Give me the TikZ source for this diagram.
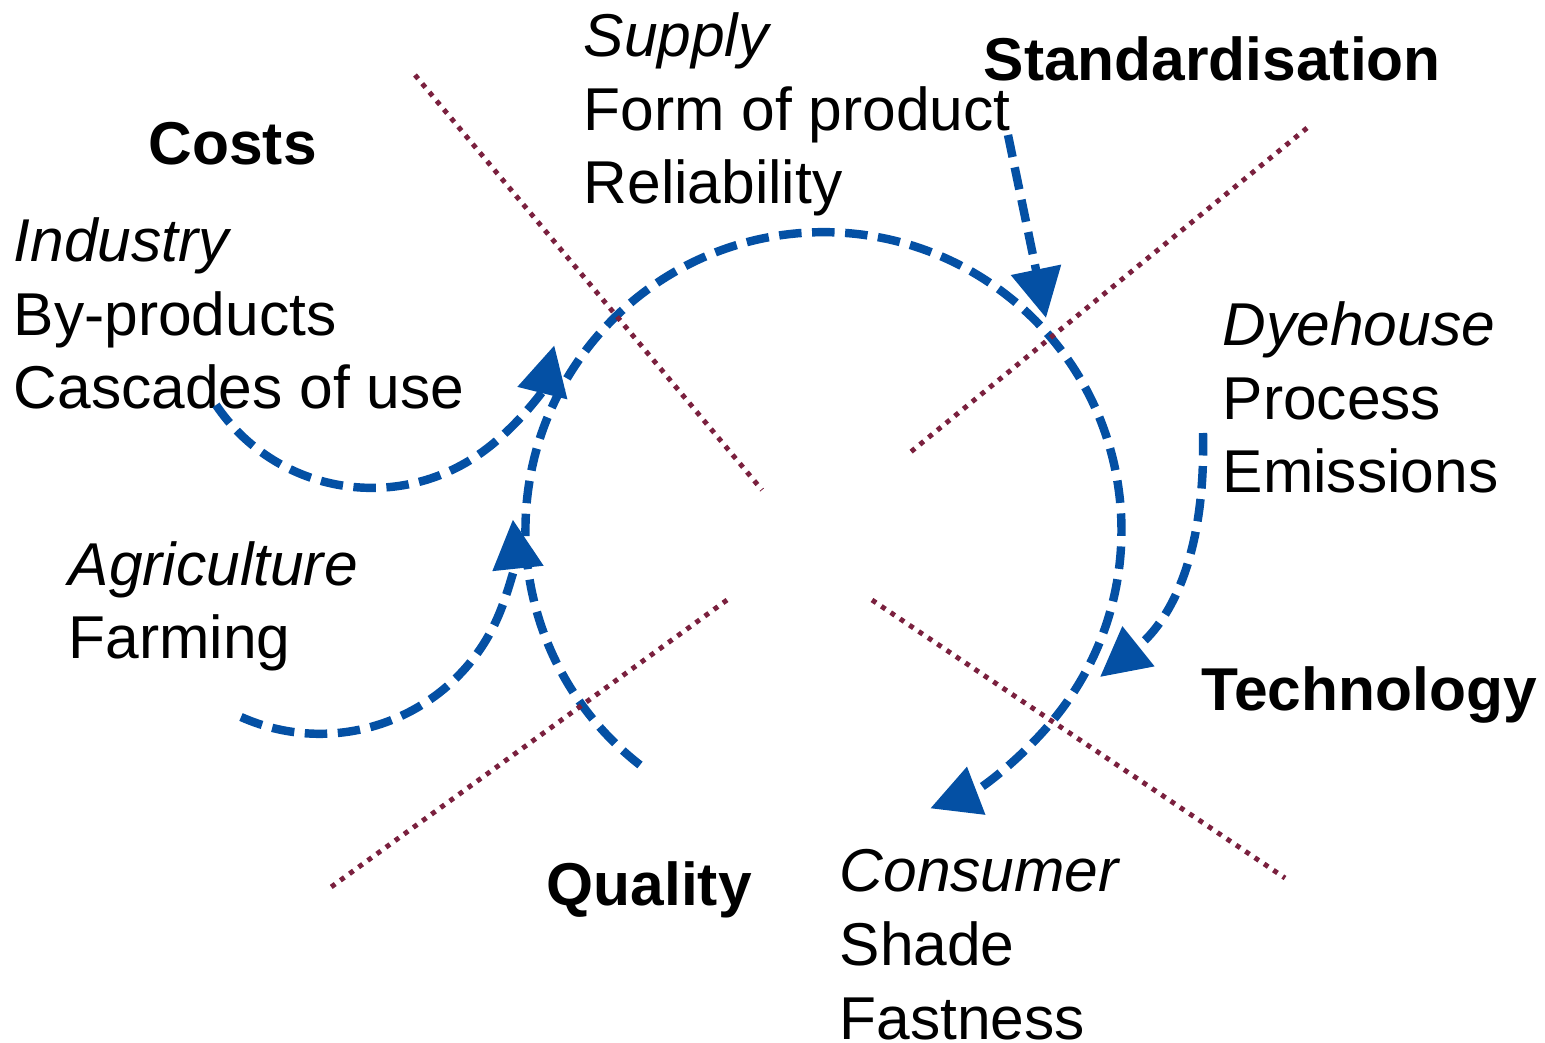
\documentclass[tikz,border=0pt]{standalone}
\usepackage{fontspec}
\setmainfont{Liberation Sans}
\usetikzlibrary{arrows.meta}
\definecolor{flowblue}{RGB}{4,80,164}
\definecolor{sectorred}{RGB}{122,32,62}

\begin{document}
\begin{tikzpicture}[x=0.01cm,y=-0.01cm,
    >={Triangle[length=14pt,width=14pt]},
    every node/.style={inner sep=0pt,anchor=base west,align=left,
        font=\fontsize{17.2}{21}\selectfont},
    head/.style={font=\fontsize{17.2}{21}\selectfont\bfseries},
    flow/.style={->,flowblue,line width=2.4pt,dash pattern=on 6.4pt off 3pt},
    border/.style={sectorred,line width=1.4pt,dash pattern=on 1.4pt off 1.8pt}]
    \useasboundingbox (0,0) rectangle (1545,1043);
    % headings
    \node[head] (costs) at (148,165) {Costs};
    \node[head] (standard) at (983,81) {Standardisation};
    \node[head] (tech) at (1201,710) {Technology};
    \node[head] (quality) at (546,905) {Quality};
    % actors (base = last line)
    \node (supply) at (583,204) {\textit{Supply}\\Form of product\\Reliability};
    \node (industry) at (13,409) {\textit{Industry}\\By-products\\Cascades of use};
    \node (dyehouse) at (1222,493) {\textit{Dyehouse}\\Process\\Emissions};
    \node (agri) at (68,659) {\textit{Agriculture}\\Farming};
    \node (consumer) at (839,1039) {\textit{Consumer}\\Shade\\Fastness};
    % flows
    \coordinate (cyclestart) at (640,765);
    \coordinate (indstart) at (216,405);
    \coordinate (agristart) at (241,717);
    \coordinate (stdstart) at (1008,135);
    \coordinate (stdend) at (1046,318);
    \coordinate (dyestart) at (1203,433);
    \coordinate (dyeend) at (1100,677);
    \draw[flow] (cyclestart) arc[start angle=128,end angle=429,radius=298];
    \draw[flow] (indstart) arc[start angle=146,end angle=14,radius=188];
    \draw[flow] (agristart) arc[start angle=114,end angle=-6,radius=194];
    \draw[flow] (stdstart) -- (stdend);
    \draw[flow] (dyestart) .. controls (1206,565) and (1165,625) .. (dyeend);
    % sector borders
    \foreach \p/\q in {{(415,75)}/{(762,490)},{(1307,128)}/{(907,455)},
                       {(727,600)}/{(327,890)},{(872,600)}/{(1285,878)}}
        \draw[border] \p -- \q;
\end{tikzpicture}
\end{document}
